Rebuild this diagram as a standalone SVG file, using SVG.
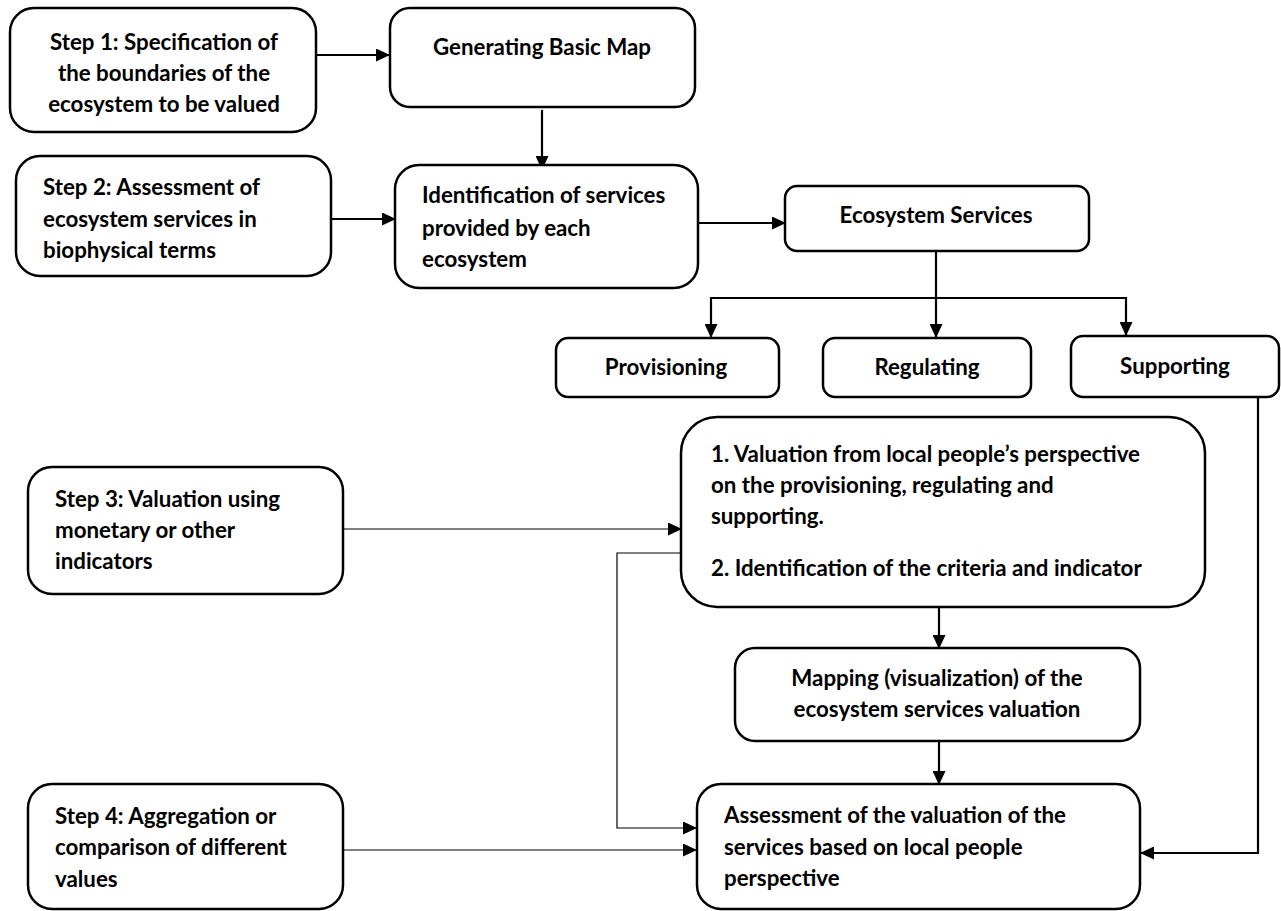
<svg xmlns="http://www.w3.org/2000/svg" width="1281" height="911" viewBox="0 0 1281 911">
<style>
.box{fill:#fff;stroke:#000;stroke-width:2.5}
.t{font-family:Lato,"Liberation Sans",sans-serif;font-weight:700;font-size:22.3px;fill:#000}
.c{text-anchor:middle}
.ln{fill:none;stroke:#000;stroke-width:2.2}
.thin{fill:none;stroke:#000;stroke-width:1.2}
</style>
<defs>
<marker id="ah" viewBox="0 0 14 13" refX="14" refY="6.5" markerWidth="14" markerHeight="13" markerUnits="userSpaceOnUse" orient="auto">
<path d="M0,0 L14,6.5 L0,13 Z" fill="#000"/>
</marker>
<clipPath id="clip2"><rect x="16" y="156" width="316" height="106"/></clipPath>
</defs>
<g id="connectors">
<line class="ln" x1="316" y1="55" x2="390" y2="55" marker-end="url(#ah)"/>
<line class="ln" x1="542" y1="110" x2="542" y2="170" marker-end="url(#ah)"/>
<line class="ln" x1="331" y1="219" x2="396" y2="219" marker-end="url(#ah)"/>
<line class="ln" x1="698" y1="223" x2="786" y2="223" marker-end="url(#ah)"/>
<line class="ln" x1="936" y1="251" x2="936" y2="338" marker-end="url(#ah)"/>
<polyline class="ln" points="711,298 1126,298 1126,336" marker-end="url(#ah)"/>
<line class="ln" x1="711" y1="297" x2="711" y2="338" marker-end="url(#ah)"/>
<line class="thin" x1="343" y1="529" x2="682" y2="529" marker-end="url(#ah)"/>
<polyline class="thin" points="681,553 617,553 617,828 697,828" marker-end="url(#ah)"/>
<line class="thin" x1="343" y1="850" x2="697" y2="850" marker-end="url(#ah)"/>
<polyline class="ln" points="1258,397 1258,853 1140,853" marker-end="url(#ah)"/>
<line class="ln" x1="939" y1="608" x2="939" y2="649" marker-end="url(#ah)"/>
<line class="ln" x1="939" y1="741" x2="939" y2="785" marker-end="url(#ah)"/>
</g>
<g id="step1">
<rect class="box" x="10" y="8" width="306" height="124" rx="24"/>
<text class="t c" x="164" y="50">Step 1: Specification of</text>
<text class="t c" x="164" y="81">the boundaries of the</text>
<text class="t c" x="164" y="112">ecosystem to be valued</text>
</g>
<g id="basicmap">
<rect class="box" x="390" y="8" width="305" height="99" rx="20"/>
<text class="t c" x="542" y="55">Generating Basic Map</text>
</g>
<g id="step2">
<rect class="box" x="16" y="156" width="315" height="120" rx="24"/>
<g clip-path="url(#clip2)">
<text class="t" x="43" y="195">Step 2: Assessment of</text>
<text class="t" x="43" y="227">ecosystem services in</text>
<text class="t" x="43" y="258">biophysical terms</text>
</g>
</g>
<g id="identification">
<rect class="box" x="395" y="165" width="303" height="123" rx="24"/>
<text class="t" x="422" y="203">Identification of services</text>
<text class="t" x="422" y="236">provided by each</text>
<text class="t" x="422" y="267">ecosystem</text>
</g>
<g id="ecoservices">
<rect class="box" x="785" y="186" width="304" height="65" rx="12"/>
<text class="t c" x="936" y="223">Ecosystem Services</text>
</g>
<g id="provisioning">
<rect class="box" x="556" y="338" width="223" height="59" rx="12"/>
<text class="t c" x="666" y="375">Provisioning</text>
</g>
<g id="regulating">
<rect class="box" x="823" y="338" width="208" height="59" rx="12"/>
<text class="t c" x="927" y="375">Regulating</text>
</g>
<g id="supporting">
<rect class="box" x="1071" y="336" width="208" height="61" rx="12"/>
<text class="t c" x="1175" y="374">Supporting</text>
</g>
<g id="step3">
<rect class="box" x="28" y="467" width="315" height="127" rx="24"/>
<text class="t" x="55" y="507">Step 3: Valuation using</text>
<text class="t" x="55" y="538">monetary or other</text>
<text class="t" x="55" y="569">indicators</text>
</g>
<g id="valuation">
<rect class="box" x="681" y="417" width="524" height="190" rx="36"/>
<text class="t" x="711" y="462">1. Valuation from local people’s perspective</text>
<text class="t" x="711" y="493">on the provisioning, regulating and</text>
<text class="t" x="711" y="524">supporting.</text>
<text class="t" x="711" y="576">2. Identification of the criteria and indicator</text>
</g>
<g id="mapping">
<rect class="box" x="735" y="648" width="405" height="93" rx="20"/>
<text class="t c" x="937" y="686">Mapping (visualization) of the</text>
<text class="t c" x="937" y="717">ecosystem services valuation</text>
</g>
<g id="step4">
<rect class="box" x="28" y="784" width="315" height="125" rx="24"/>
<text class="t" x="55" y="824">Step 4: Aggregation or</text>
<text class="t" x="55" y="855">comparison of different</text>
<text class="t" x="55" y="887">values</text>
</g>
<g id="assessment">
<rect class="box" x="697" y="784" width="443" height="125" rx="24"/>
<text class="t" x="724" y="823">Assessment of the valuation of the</text>
<text class="t" x="724" y="855">services based on local people</text>
<text class="t" x="724" y="886">perspective</text>
</g>
</svg>
